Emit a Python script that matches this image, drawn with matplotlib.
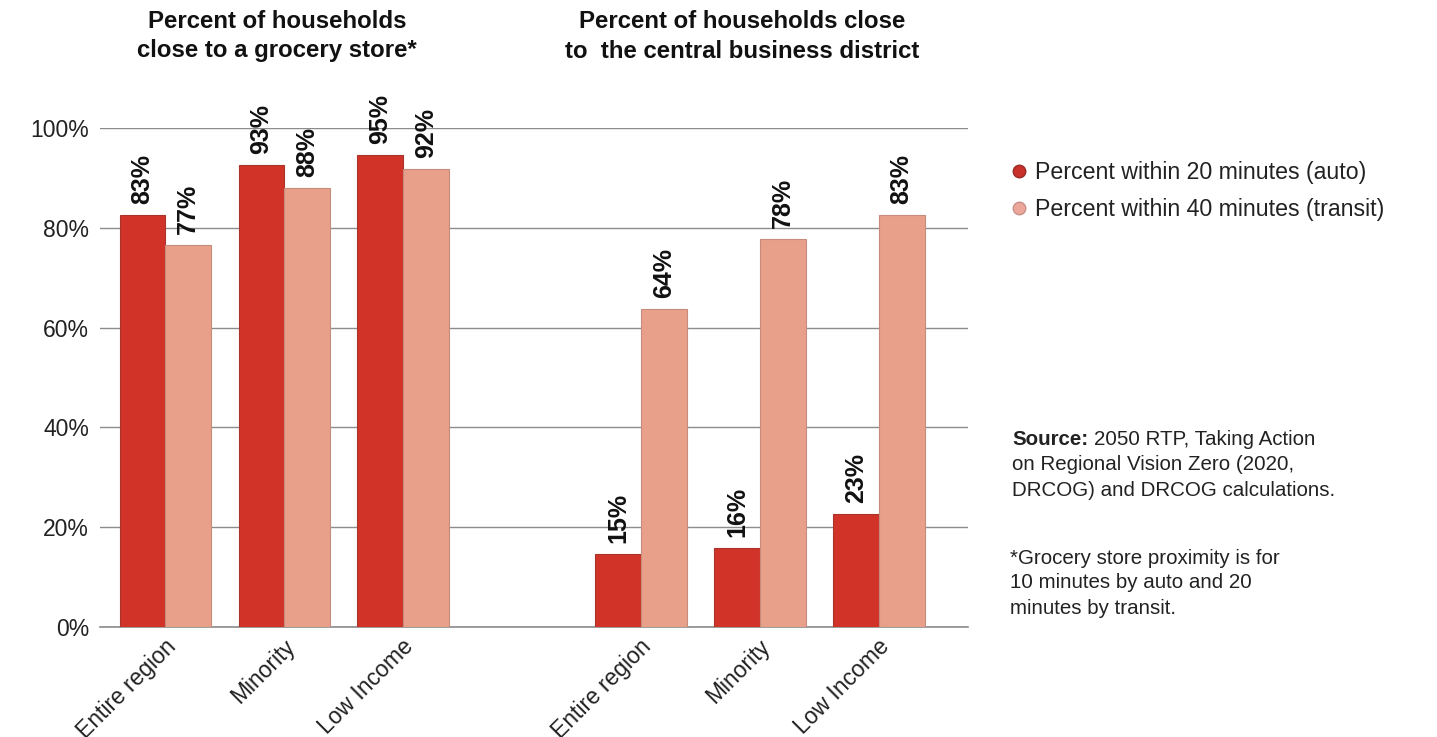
import matplotlib.pyplot as plt
from matplotlib.lines import Line2D
import numpy as np

plt.rcParams['font.family'] = ['Liberation Sans', 'DejaVu Sans']

# data
categories = ["Entire region", "Minority", "Low Income",
              "Entire region", "Minority", "Low Income"]
auto_pct = [82.6, 92.6, 94.6, 14.6, 15.8, 22.6]
transit_pct = [76.6, 87.9, 91.8, 63.8, 77.8, 82.6]
y_ticks = [0, 20, 40, 60, 80, 100]

dark_red = "#d13328"
light_red = "#e9a08a"
W, H = 1437, 737

fig = plt.figure(figsize=(14.37, 7.37), dpi=100)
ax = fig.add_axes([100 / W, 1 - 627 / H, 868 / W, 499 / H])

x = np.array([0, 1, 2, 4, 5, 6])
w = 0.385
b1 = ax.bar(x - w / 2, auto_pct, w, color=dark_red, edgecolor="#a8342c",
            linewidth=0.8, zorder=3)
b2 = ax.bar(x + w / 2, transit_pct, w, color=light_red, edgecolor="#c58c7c",
            linewidth=0.8, zorder=3)

for bars, vals in [(b1, auto_pct), (b2, transit_pct)]:
    for r, v in zip(bars, vals):
        ax.text(r.get_x() + r.get_width() / 2, v + 2.2, f"{v:.0f}%",
                rotation=90, ha="center", va="bottom", fontsize=18,
                fontweight="bold", color="#111111")

ax.set_xlim(-0.55, 6.75)
ax.set_ylim(0, 100)
ax.set_yticks(y_ticks)
ax.set_yticklabels([f"{t}%" for t in y_ticks], fontsize=16.5, color="#222222")
ax.tick_params(axis="y", length=0, pad=8)
ax.yaxis.grid(True, color="#8c8c8c", linewidth=1, zorder=0)
ax.set_axisbelow(True)
for s in ["top", "right", "left"]:
    ax.spines[s].set_visible(False)
ax.spines["bottom"].set_color("#8c8c8c")
ax.spines["bottom"].set_linewidth(1.2)

ax.set_xticks(x - 0.01)
ax.set_xticklabels(categories, rotation=45, ha="right", va="top",
                   rotation_mode="anchor", fontsize=16.5, color="#222222")
ax.tick_params(axis="x", length=0, pad=6)

# panel titles
title_kw = dict(ha="center", va="center", fontsize=17.3, fontweight="bold",
                color="#111111")
fig.text(277 / W, 1 - 21 / H, "Percent of households", **title_kw)
fig.text(277 / W, 1 - 51 / H, "close to a grocery store*", **title_kw)
fig.text(742 / W, 1 - 21 / H, "Percent of households close", **title_kw)
fig.text(742 / W, 1 - 51 / H, "to  the central business district", **title_kw)

# legend
handles = [
    Line2D([], [], marker="o", linestyle="", markersize=9,
           markerfacecolor="#c8302a", markeredgecolor="#9a2a26"),
    Line2D([], [], marker="o", linestyle="", markersize=9,
           markerfacecolor="#eda79a", markeredgecolor="#c89088"),
]
fig.legend(handles, ["Percent within 20 minutes (auto)",
                     "Percent within 40 minutes (transit)"],
           loc="upper left", bbox_to_anchor=(984 / W, 1 - 140 / H),
           frameon=False, fontsize=16.7, handletextpad=0.1,
           labelspacing=0.62, handlelength=1.2, labelcolor="#222222")

# source note
note_kw = dict(fontsize=14.8, va="center", color="#222222")
src = fig.text(1012 / W, 1 - 440 / H, "Source:", fontweight="bold", **note_kw)
fig.canvas.draw()
bb = src.get_window_extent()
fig.text((bb.x1 + 6) / W, 1 - 440 / H, "2050 RTP, Taking Action", **note_kw)
fig.text(1012 / W, 1 - 465 / H, "on Regional Vision Zero (2020,", **note_kw)
fig.text(1012 / W, 1 - 490 / H, "DRCOG) and DRCOG calculations.", **note_kw)

foot = ["*Grocery store proximity is for", "10 minutes by auto and 20",
        "minutes by transit."]
for i, line in enumerate(foot):
    fig.text(1010 / W, 1 - (558 + 25 * i) / H, line, **note_kw)

fig.savefig("out.png", dpi=100)
